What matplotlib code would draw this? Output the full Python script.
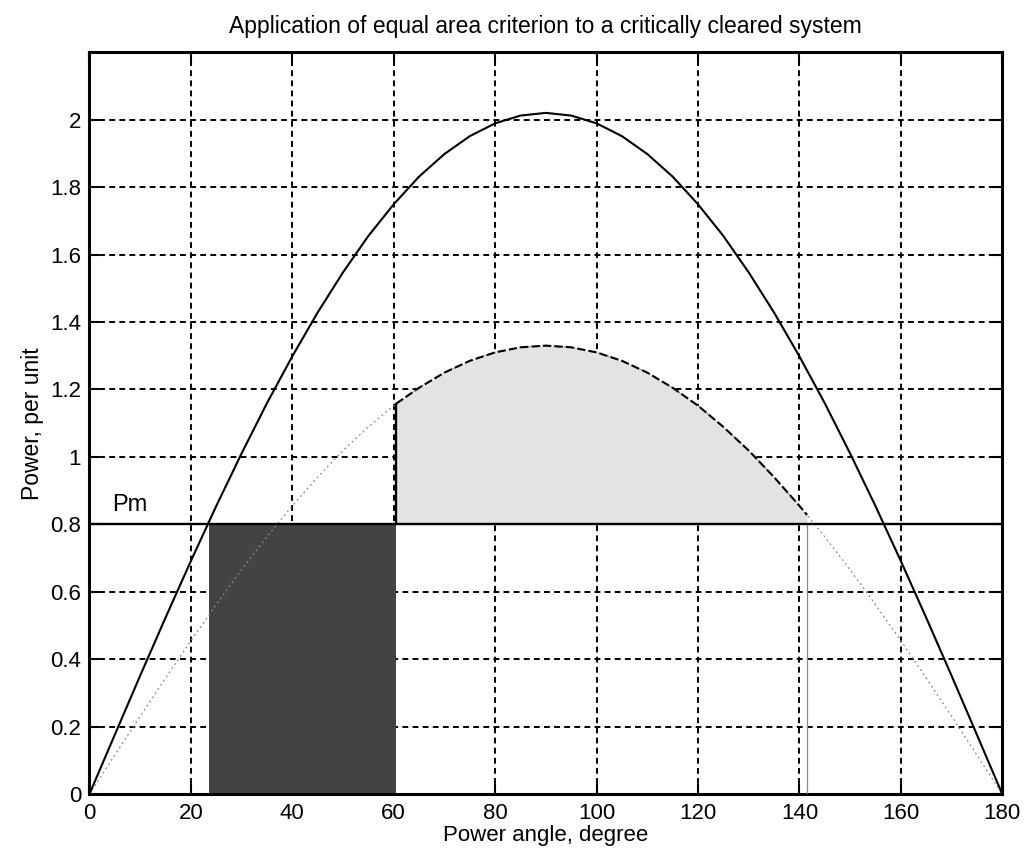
import numpy as np
import matplotlib
matplotlib.use("Agg")
import matplotlib.pyplot as plt

plt.rcParams['font.family'] = ['Liberation Sans', 'DejaVu Sans']

# power angle samples, degree
delta = [0, 5, 10, 15, 20, 25, 30, 35, 40, 45, 50, 55, 60, 65, 70, 75, 80, 85, 90,
         95, 100, 105, 110, 115, 120, 125, 130, 135, 140, 145, 150, 155, 160, 165,
         170, 175, 180]

# pre-fault / post-clearing curves (per unit)
p_pre = [0, 0.176, 0.351, 0.523, 0.691, 0.854, 1.010, 1.159, 1.298, 1.428, 1.547,
         1.655, 1.749, 1.831, 1.898, 1.951, 1.989, 2.012, 2.02, 2.012, 1.989, 1.951,
         1.898, 1.831, 1.749, 1.655, 1.547, 1.428, 1.298, 1.159, 1.010, 0.854, 0.691,
         0.523, 0.351, 0.176, 0]
p_post = [0, 0.116, 0.231, 0.344, 0.455, 0.562, 0.665, 0.763, 0.855, 0.940, 1.019,
          1.089, 1.152, 1.205, 1.250, 1.285, 1.310, 1.325, 1.33, 1.325, 1.310, 1.285,
          1.250, 1.205, 1.152, 1.089, 1.019, 0.940, 0.855, 0.763, 0.665, 0.562, 0.455,
          0.344, 0.231, 0.116, 0]

Pm = 0.8
d0 = 23.5      # initial angle
dc = 60.5      # critical clearing angle
dmax = 141.5   # maximum swing angle

# upper boundary of the decelerating area
acc_d = [60.5, 65, 70, 75, 80, 85, 90, 95, 100, 105, 110, 115, 120, 125, 130, 135,
         140, 141.5]
acc_p = [1.158, 1.205, 1.250, 1.285, 1.310, 1.325, 1.33, 1.325, 1.310, 1.285, 1.250,
         1.205, 1.152, 1.089, 1.019, 0.940, 0.855, 0.828]

fig = plt.figure(figsize=(10.27, 8.55), dpi=100)
ax = fig.add_axes([0.087, 0.071, 0.889, 0.868])

# accelerating area (fault on, Pe = 0)
ax.fill([d0, dc, dc, d0], [0, 0, Pm, Pm], color='#434343', lw=0, zorder=2)
# decelerating area
ax.fill_between(acc_d, [Pm] * len(acc_d), acc_p, color='#e3e3e3', lw=0, zorder=2)

ax.plot(delta, p_post, color='#8a8a8a', lw=0.9, ls=(0, (1.5, 2.5)), zorder=3)
ax.plot(acc_d, acc_p, color='k', lw=1.5, ls=(0, (4, 1.5)), zorder=4)
ax.plot([dc, dc], [Pm, acc_p[0]], color='k', lw=1.7, zorder=4)
ax.plot([dmax, dmax], [0, Pm], color='#8a8a8a', lw=0.9, zorder=3)
ax.plot(delta, p_pre, color='k', lw=1.5, zorder=4)
ax.plot([0, 180], [Pm, Pm], color='k', lw=1.7, zorder=4)

ax.text(4.5, 0.84, 'Pm', fontsize=17)

ax.set_xlim(0, 180)
ax.set_ylim(0, 2.2)
ax.set_xticks(np.arange(0, 181, 20))
ax.set_yticks(np.arange(0, 2.01, 0.2))
ax.set_yticklabels(['0', '0.2', '0.4', '0.6', '0.8', '1', '1.2', '1.4', '1.6', '1.8', '2'])
ax.grid(True, color='k', lw=1.4, ls=(0, (3, 2.2)))
ax.set_axisbelow(True)
ax.tick_params(direction='in', length=7, width=1.5, labelsize=16, top=True, right=True, pad=6)
for s in ax.spines.values():
    s.set_linewidth(2.2)

ax.set_title('Application of equal area criterion to a critically cleared system',
             fontsize=16.5, pad=14)
ax.set_xlabel('Power angle, degree', fontsize=16, labelpad=1)
ax.set_ylabel('Power, per unit', fontsize=16.5, labelpad=4)

fig.savefig('out.png', dpi=100)
